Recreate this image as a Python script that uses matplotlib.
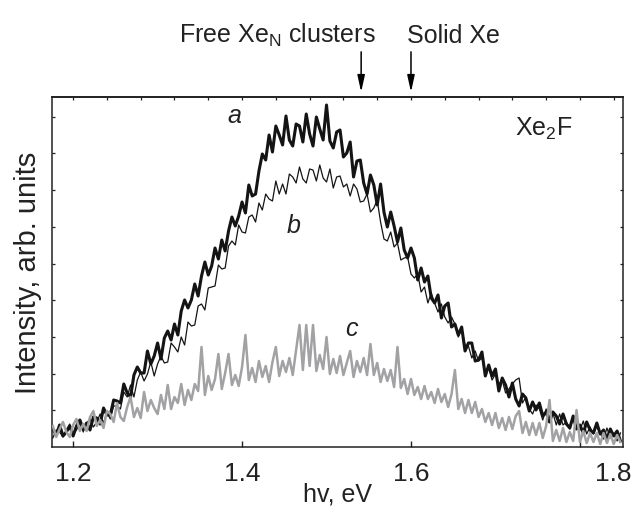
import numpy as np
import matplotlib
matplotlib.use("Agg")
import matplotlib.pyplot as plt
from matplotlib import transforms

# ---------------- data ----------------
# photon energy grid of the recorded spectra (eV), evenly sampled
energy = np.linspace(1.176, 1.848, 169)

# intensity, arbitrary units (height above the bottom axis)
curve_a = [18, 12, 22, 11, 15, 21, 11, 21, 27, 18,
           24, 17, 30, 29, 23, 39, 32, 32, 47, 46,
           44, 63, 54, 50, 72, 80, 74, 74, 96, 83,
           91, 104, 88, 109, 116, 107, 123, 112, 136, 147,
           139, 147, 163, 151, 171, 185, 172, 181, 199, 188,
           207, 196, 216, 230, 221, 231, 245, 234, 262, 251,
           253, 276, 293, 287, 312, 295, 321, 312, 302, 331,
           307, 301, 323, 321, 305, 333, 313, 301, 330, 318,
           307, 342, 306, 299, 315, 317, 290, 294, 305, 270,
           286, 287, 264, 253, 272, 262, 242, 263, 235, 220,
           235, 221, 205, 219, 197, 189, 199, 189, 167, 179,
           165, 171, 149, 144, 152, 129, 141, 144, 120, 123,
           112, 120, 96, 104, 104, 86, 87, 95, 71, 82,
           71, 78, 56, 69, 62, 50, 64, 48, 41, 53,
           49, 36, 45, 37, 44, 31, 35, 25, 35, 31,
           23, 33, 23, 19, 31, 18, 22, 14, 25, 17,
           14, 24, 13, 17, 8, 18, 11, 16, 6]

curve_b = [9, 17, 15, 10, 17, 23, 13, 17, 24, 15,
           24, 28, 20, 25, 33, 24, 35, 28, 41, 41,
           38, 55, 50, 62, 50, 67, 75, 66, 73, 85,
           71, 83, 91, 84, 85, 104, 100, 95, 110, 102,
           125, 121, 122, 141, 143, 137, 159, 160, 161, 182,
           178, 179, 201, 206, 202, 222, 215, 214, 230, 232,
           225, 244, 237, 253, 248, 246, 266, 253, 263, 253,
           273, 270, 264, 280, 268, 264, 278, 277, 266, 282,
           269, 265, 278, 259, 270, 271, 260, 263, 251, 263,
           258, 245, 246, 253, 235, 239, 247, 225, 208, 206,
           215, 200, 204, 187, 189, 190, 173, 169, 173, 155,
           160, 144, 154, 144, 135, 143, 130, 124, 130, 123,
           110, 118, 102, 101, 89, 96, 86, 89, 75, 79,
           67, 73, 63, 67, 54, 58, 63, 67, 69, 44,
           50, 38, 33, 42, 38, 27, 38, 30, 34, 22,
           33, 22, 25, 18, 29, 19, 17, 26, 13, 20,
           13, 21, 14, 8, 19, 9, 14, 6, 14]

curve_c = [21, 10, 18, 25, 15, 10, 22, 28, 16, 23,
           16, 30, 36, 21, 27, 19, 36, 33, 25, 44,
           30, 26, 40, 50, 30, 39, 29, 55, 36, 47,
           39, 33, 52, 38, 62, 38, 50, 44, 63, 42,
           57, 47, 63, 56, 100, 52, 71, 57, 68, 93,
           58, 74, 93, 62, 72, 61, 80, 112, 67, 79,
           65, 86, 70, 81, 65, 85, 100, 71, 86, 75,
           89, 72, 97, 122, 77, 122, 81, 122, 76, 92,
           78, 110, 73, 88, 74, 91, 72, 84, 96, 70,
           86, 75, 89, 72, 103, 72, 84, 65, 78, 66,
           77, 60, 100, 59, 68, 53, 68, 52, 60, 48,
           61, 48, 55, 44, 58, 45, 53, 40, 53, 77,
           38, 48, 34, 47, 34, 45, 30, 38, 25, 34,
           22, 34, 19, 29, 17, 30, 18, 31, 36, 14,
           25, 12, 24, 12, 24, 9, 21, 47, 6, 17,
           6, 19, 5, 15, 6, 37, 5, 16, 4, 14,
           5, 14, 3, 14, 4, 13, 3, 12, 5]

x_major = [1.2, 1.4, 1.6, 1.8]
x_major_labels = ["1.2", "1.4", "1.6", ""]
x_top_ticks = [1.2 + 0.04 * k for k in range(17)]
y_ticks = [36.7 * k for k in range(1, 10)]

marker_free = 1.541      # Free Xe_N clusters
marker_solid = 1.600     # Solid Xe

# ---------------- style ----------------
plt.rcParams['font.family'] = ['Liberation Sans', 'DejaVu Sans']
plt.rcParams['mathtext.fontset'] = 'custom'
plt.rcParams['mathtext.rm'] = 'Liberation Sans'
plt.rcParams['mathtext.it'] = 'Liberation Sans:italic'
plt.rcParams['mathtext.default'] = 'regular'

BLACK = '#141414'
GREY = '#a2a2a4'
INK = '#222222'

fig = plt.figure(figsize=(6.36, 5.10), dpi=100)
ax = fig.add_axes([52 / 636, 62 / 510, 571 / 636, 350 / 510])

ax.plot(energy, curve_a, color=BLACK, lw=2.2, zorder=2)
ax.plot(energy, curve_b, color=BLACK, lw=0.9, zorder=3)
ax.plot(energy, curve_c, color=GREY, lw=1.8, zorder=4)

ax.set_xlim(1.175, 1.851)
ax.set_ylim(0, 350)

for s in ax.spines.values():
    s.set_linewidth(1.1)
    s.set_color(INK)

pad_pts = 10
ax.set_xticks(x_major)
ax.set_xticklabels(x_major_labels)
ax.tick_params(axis='x', which='major', direction='in', length=4.5, width=1.0,
               top=False, bottom=True, labelsize=19, pad=pad_pts, colors=INK)
ax.set_yticks(y_ticks)
ax.tick_params(axis='y', which='major', direction='in', length=2.5, width=0.9,
               left=True, right=True, labelleft=False, colors=INK)

# top axis: fine ticks
sec = ax.secondary_xaxis('top')
sec.set_xticks(x_top_ticks)
sec.tick_params(direction='in', length=2.5, width=0.9, labeltop=False, colors=INK)
sec.spines['top'].set_linewidth(1.1)

# the "1.8" label sits at the right end of the axis in the original
lab_tr = transforms.offset_copy(ax.get_xaxis_transform(), fig=fig, y=-pad_pts, units='points')
ax.text(1.840, 0, "1.8", transform=lab_tr, ha='center', va='top', fontsize=19, color=INK)

ax.set_xlabel("hv, eV", fontsize=18, labelpad=-2.5, color=INK)
ax.set_ylabel("Intensity, arb. units", fontsize=21, labelpad=7, color=INK)

# curve labels
ax.text(1.3905, 332, "a", fontsize=18, style='italic', ha='center', va='center', color=INK)
ax.text(1.4615, 222, "b", fontsize=18, style='italic', ha='center', va='center', color=INK)
ax.text(1.530, 119, "c", fontsize=18, style='italic', ha='center', va='center', color=INK)
ax.text(1.7574, 319, "Xe$_2$F", fontsize=18, ha='center', va='center', color=INK)

# top markers
tr = ax.get_xaxis_transform()
ax.text(1.4414, 1.157, "Free Xe$_\\mathrm{N}$ clusters", transform=tr, fontsize=18,
        ha='center', va='baseline', color=INK)
ax.text(1.6497, 1.157, "Solid Xe", transform=tr, fontsize=18, ha='center',
        va='baseline', color=INK)
for xm in (marker_free, marker_solid):
    ax.annotate('', xy=(xm, 1.014), xytext=(xm, 1.129), xycoords=tr, textcoords=tr,
                arrowprops=dict(arrowstyle='-|>,head_length=1.0,head_width=0.22',
                                mutation_scale=10, color='black', lw=1.1,
                                shrinkA=0, shrinkB=0),
                annotation_clip=False)

fig.savefig("out.png", dpi=100)
